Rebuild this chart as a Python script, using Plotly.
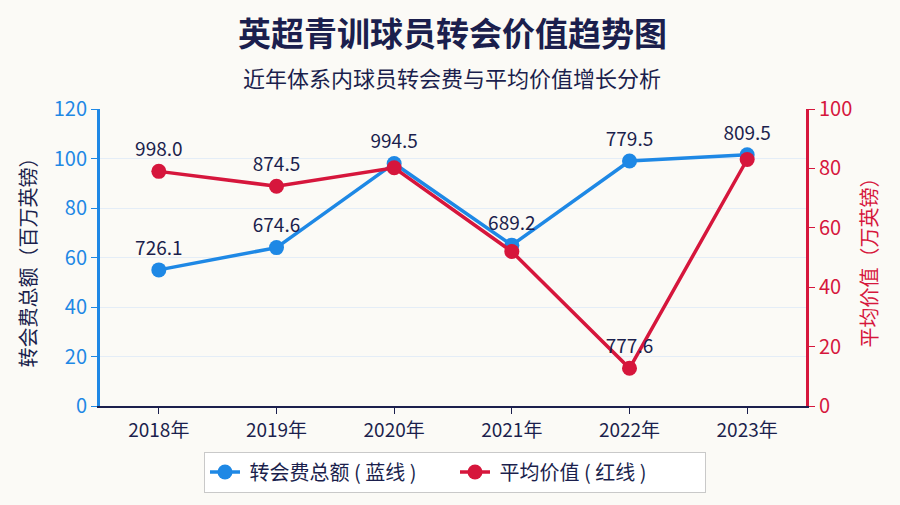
import plotly.graph_objects as go

years = ["2018年", "2019年", "2020年", "2021年", "2022年", "2023年"]
transfer_total = [55, 64, 98, 65, 99, 101.5]
avg_value = [79, 74, 80.2, 52, 12.7, 83]
transfer_labels = ["726.1", "674.6", "994.5", "689.2", "779.5", "809.5"]
avg_labels = ["998.0", "874.5", "", "", "777.6", ""]

BLUE = "#1E88E5"
RED = "#D6163C"
NAVY = "#1b1f4d"
BG = "#fbfaf6"
FONT = "Noto Sans CJK SC"

W, H = 900, 505
ML, MR, MT, MB = 100, 94, 109, 96

fig = go.Figure()
fig.add_trace(go.Scatter(
    x=years, y=transfer_total, name=" 转会费总额 ( 蓝线 )",
    mode="lines+markers+text", text=transfer_labels, textposition="top center",
    textfont=dict(size=19, color=NAVY, family=FONT),
    line=dict(color=BLUE, width=3.5), marker=dict(size=15, color=BLUE),
    yaxis="y", cliponaxis=False,
))
fig.add_trace(go.Scatter(
    x=years, y=avg_value, name=" 平均价值 ( 红线 )",
    mode="lines+markers+text", text=avg_labels, textposition="top center",
    textfont=dict(size=19, color=NAVY, family=FONT),
    line=dict(color=RED, width=3.5), marker=dict(size=15, color=RED),
    yaxis="y2", cliponaxis=False,
))

plot_w = W - ML - MR
plot_h = H - MT - MB

fig.update_layout(
    width=W, height=H,
    margin=dict(l=ML, r=MR, t=MT, b=MB),
    paper_bgcolor=BG, plot_bgcolor=BG,
    font=dict(family=FONT, color=NAVY),
    showlegend=True,
    legend=dict(orientation="h", x=(455 - ML) / plot_w, xanchor="center",
                y=(H - MB - 455) / plot_h, yanchor="top",
                bgcolor="white", bordercolor="#c9c9c9", borderwidth=1,
                entrywidth=205, entrywidthmode="pixels",
                font=dict(size=20, color=NAVY, family=FONT)),
    xaxis=dict(type="category", range=[-0.5, 5.5], showgrid=False,
               showline=True, linecolor=NAVY, linewidth=2,
               ticks="outside", ticklen=6, tickcolor=NAVY,
               tickfont=dict(size=19, color=NAVY, family=FONT)),
    yaxis=dict(range=[0, 120], dtick=20, showgrid=True, gridcolor="#e4edf7", gridwidth=1,
               zeroline=False, showline=True, linecolor=BLUE, linewidth=3,
               ticks="outside", ticklen=6, tickcolor=BLUE,
               tickfont=dict(size=20, color=BLUE, family=FONT),
               title=dict(text="转会费总额（百万英镑）", font=dict(size=20, color=NAVY, family=FONT), standoff=12)),
    yaxis2=dict(range=[0, 100], dtick=20, overlaying="y", side="right", showgrid=False,
                zeroline=False, showline=True, linecolor=RED, linewidth=3,
                ticks="outside", ticklen=6, tickcolor=RED,
                tickfont=dict(size=20, color=RED, family=FONT),
                title=dict(text="平均价值（万英镑）", font=dict(size=20, color=RED, family=FONT), standoff=12)),
    annotations=[
        dict(text="<b>英超青训球员转会价值趋势图</b>", x=(452 - ML) / plot_w, y=(H - MB - 31) / plot_h,
             xref="paper", yref="paper", yanchor="middle",
             showarrow=False, font=dict(size=33, color=NAVY, family=FONT)),
        dict(text="近年体系内球员转会费与平均价值增长分析", x=(452 - ML) / plot_w, y=(H - MB - 77) / plot_h,
             xref="paper", yref="paper", yanchor="middle",
             showarrow=False, font=dict(size=22, color=NAVY, family=FONT)),
    ],
)

fig.write_html("out.html", config={"displayModeBar": False},
               post_script="document.body.style.margin='0';document.body.style.background='%s';" % BG)
